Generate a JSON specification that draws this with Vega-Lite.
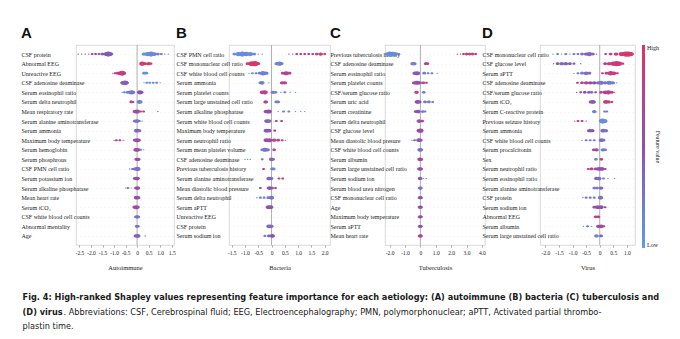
{
"$schema": "https://vega.github.io/schema/vega-lite/v6.json",
"padding": {"left": 20, "top": 25, "right": 2, "bottom": 2},
"background": "white",
"datasets": {
"names": [
{"id":"A1","p":"A","r":1,"f":"CSF protein"},{"id":"A2","p":"A","r":2,"f":"Abnormal EEG"},{"id":"A3","p":"A","r":3,"f":"Unreactive EEG"},{"id":"A4","p":"A","r":4,"f":"CSF adenosine deaminase"},{"id":"A5","p":"A","r":5,"f":"Serum eosinophil ratio"},{"id":"A6","p":"A","r":6,"f":"Serum delta neutrophil"},{"id":"A7","p":"A","r":7,"f":"Mean respiratory rate"},{"id":"A8","p":"A","r":8,"f":"Serum alanine aminotransferase"},{"id":"A9","p":"A","r":9,"f":"Serum ammonia"},{"id":"A10","p":"A","r":10,"f":"Maximum body temperature"},{"id":"A11","p":"A","r":11,"f":"Serum hemoglobin"},{"id":"A12","p":"A","r":12,"f":"Serum phosphrous"},{"id":"A13","p":"A","r":13,"f":"CSF PMN cell ratio"},{"id":"A14","p":"A","r":14,"f":"Serum potassium ion"},{"id":"A15","p":"A","r":15,"f":"Serum alkaline phosphatase"},{"id":"A16","p":"A","r":16,"f":"Mean heart rate"},{"id":"A17","p":"A","r":17,"f":"Serum tCO₂"},{"id":"A18","p":"A","r":18,"f":"CSF white blood cell counts"},{"id":"A19","p":"A","r":19,"f":"Abnormal mentality"},{"id":"A20","p":"A","r":20,"f":"Age"},
{"id":"B1","p":"B","r":1,"f":"CSF PMN cell ratio"},{"id":"B2","p":"B","r":2,"f":"CSF mononuclear cell ratio"},{"id":"B3","p":"B","r":3,"f":"CSF white blood cell counts"},{"id":"B4","p":"B","r":4,"f":"Serum ammonia"},{"id":"B5","p":"B","r":5,"f":"Serum platelet counts"},{"id":"B6","p":"B","r":6,"f":"Serum large unstained cell ratio"},{"id":"B7","p":"B","r":7,"f":"Serum alkaline phosphatase"},{"id":"B8","p":"B","r":8,"f":"Serum white blood cell counts"},{"id":"B9","p":"B","r":9,"f":"Maximum body temperature"},{"id":"B10","p":"B","r":10,"f":"Serum neutrophil ratio"},{"id":"B11","p":"B","r":11,"f":"Serum mean platelet volume"},{"id":"B12","p":"B","r":12,"f":"CSF adenosine deaminase"},{"id":"B13","p":"B","r":13,"f":"Previous tuberculosis history"},{"id":"B14","p":"B","r":14,"f":"Serum alanine aminotransferase"},{"id":"B15","p":"B","r":15,"f":"Mean diastolic blood pressure"},{"id":"B16","p":"B","r":16,"f":"Serum delta neutrophil"},{"id":"B17","p":"B","r":17,"f":"Serum aPTT"},{"id":"B18","p":"B","r":18,"f":"Unreactive EEG"},{"id":"B19","p":"B","r":19,"f":"CSF protein"},{"id":"B20","p":"B","r":20,"f":"Serum sodium ion"},
{"id":"C1","p":"C","r":1,"f":"Previous tuberculosis history"},{"id":"C2","p":"C","r":2,"f":"CSF adenosine deaminase"},{"id":"C3","p":"C","r":3,"f":"Serum eosinophil ratio"},{"id":"C4","p":"C","r":4,"f":"Serum platelet counts"},{"id":"C5","p":"C","r":5,"f":"CSF/serum glucose ratio"},{"id":"C6","p":"C","r":6,"f":"Serum uric acid"},{"id":"C7","p":"C","r":7,"f":"Serum creatinine"},{"id":"C8","p":"C","r":8,"f":"Serum delta neutrophil"},{"id":"C9","p":"C","r":9,"f":"CSF glucose level"},{"id":"C10","p":"C","r":10,"f":"Mean diastolic blood presure"},{"id":"C11","p":"C","r":11,"f":"CSF white blood cell counts"},{"id":"C12","p":"C","r":12,"f":"Serum albumin"},{"id":"C13","p":"C","r":13,"f":"Serum large unstained cell ratio"},{"id":"C14","p":"C","r":14,"f":"Serum sodium ion"},{"id":"C15","p":"C","r":15,"f":"Serum blood urea nitrogen"},{"id":"C16","p":"C","r":16,"f":"CSF mononuclear cell ratio"},{"id":"C17","p":"C","r":17,"f":"Age"},{"id":"C18","p":"C","r":18,"f":"Maximum body temperature"},{"id":"C19","p":"C","r":19,"f":"Serum aPTT"},{"id":"C20","p":"C","r":20,"f":"Mean heart rate"},
{"id":"D1","p":"D","r":1,"f":"CSF mononuclear cell ratio"},{"id":"D2","p":"D","r":2,"f":"CSF glucose level"},{"id":"D3","p":"D","r":3,"f":"Serum aPTT"},{"id":"D4","p":"D","r":4,"f":"CSF adenosine deaminase"},{"id":"D5","p":"D","r":5,"f":"CSF/serum glucose ratio"},{"id":"D6","p":"D","r":6,"f":"Serum tCO₂"},{"id":"D7","p":"D","r":7,"f":"Serum C-reactive protein"},{"id":"D8","p":"D","r":8,"f":"Previous seizure history"},{"id":"D9","p":"D","r":9,"f":"Serum ammonia"},{"id":"D10","p":"D","r":10,"f":"CSF white blood cell counts"},{"id":"D11","p":"D","r":11,"f":"Serum procalcitonin"},{"id":"D12","p":"D","r":12,"f":"Sex"},{"id":"D13","p":"D","r":13,"f":"Serum neutrophil ratio"},{"id":"D14","p":"D","r":14,"f":"Serum eosinophil ratio"},{"id":"D15","p":"D","r":15,"f":"Serum alanine aminotransferase"},{"id":"D16","p":"D","r":16,"f":"CSF protein"},{"id":"D17","p":"D","r":17,"f":"Serum sodium ion"},{"id":"D18","p":"D","r":18,"f":"Abnormal EEG"},{"id":"D19","p":"D","r":19,"f":"Serum albumin"},{"id":"D20","p":"D","r":20,"f":"Serum large unstained cell ratio"}
],
"pts": [
{"id":"A1","s":-2.55,"v":0.75,"n":1},{"id":"A1","s":-2.4,"v":0.8,"n":1},{"id":"A1","s":-2.25,"v":0.7,"n":1},{"id":"A1","s":-2.1,"v":0.75,"n":1},{"id":"A1","s":-1.95,"v":0.7,"n":2},{"id":"A1","s":-1.8,"v":0.65,"n":2},{"id":"A1","s":-1.65,"v":0.6,"n":2},{"id":"A1","s":-1.5,"v":0.55,"n":3},{"id":"A1","s":-1.35,"v":0.5,"n":5},{"id":"A1","s":-1.25,"v":0.45,"n":9},{"id":"A1","s":-1.15,"v":0.45,"n":5},{"id":"A1","s":0.3,"v":0.1,"n":4},{"id":"A1","s":0.45,"v":0.1,"n":6},{"id":"A1","s":0.6,"v":0.12,"n":9},{"id":"A1","s":0.75,"v":0.15,"n":5},{"id":"A1","s":0.9,"v":0.15,"n":3},{"id":"A1","s":1.05,"v":0.2,"n":2},{"id":"A1","s":1.2,"v":0.15,"n":1},{"id":"A1","s":1.35,"v":0.2,"n":1},
{"id":"A2","s":-1.9,"v":null,"n":1},{"id":"A2","s":-1.75,"v":null,"n":2},{"id":"A2","s":-1.6,"v":null,"n":3},{"id":"A2","s":-1.45,"v":null,"n":3},{"id":"A2","s":-1.3,"v":null,"n":2},{"id":"A2","s":-1.15,"v":null,"n":2},{"id":"A2","s":-1.0,"v":null,"n":1},{"id":"A2","s":-0.72,"v":null,"n":6},{"id":"A2","s":-0.63,"v":null,"n":9},{"id":"A2","s":-0.56,"v":null,"n":4},{"id":"A2","s":0.22,"v":1,"n":6},{"id":"A2","s":0.35,"v":0.95,"n":3},{"id":"A2","s":0.5,"v":0.95,"n":4},{"id":"A2","s":0.6,"v":0.9,"n":2},
{"id":"A3","s":-1.05,"v":0.8,"n":1},{"id":"A3","s":-0.95,"v":0.8,"n":2},{"id":"A3","s":-0.85,"v":0.8,"n":3},{"id":"A3","s":-0.75,"v":0.85,"n":5},{"id":"A3","s":-0.65,"v":0.85,"n":8},{"id":"A3","s":-0.58,"v":0.8,"n":4},{"id":"A3","s":0.3,"v":0.1,"n":3},{"id":"A3","s":0.4,"v":0.1,"n":3},
{"id":"A4","s":-0.62,"v":0.45,"n":5},{"id":"A4","s":-0.52,"v":0.4,"n":8},{"id":"A4","s":-0.44,"v":0.45,"n":3},{"id":"A4","s":0.3,"v":0.1,"n":1},{"id":"A4","s":0.42,"v":0.1,"n":2},{"id":"A4","s":0.55,"v":0.1,"n":2},{"id":"A4","s":0.7,"v":0.1,"n":2},{"id":"A4","s":0.85,"v":0.15,"n":2},{"id":"A4","s":1.0,"v":0.1,"n":1},
{"id":"A5","s":-0.65,"v":0.1,"n":1},{"id":"A5","s":-0.55,"v":0.1,"n":2},{"id":"A5","s":-0.42,"v":0.15,"n":3},{"id":"A5","s":-0.3,"v":0.2,"n":5},{"id":"A5","s":-0.22,"v":0.25,"n":7},{"id":"A5","s":0.12,"v":0.5,"n":6},{"id":"A5","s":0.2,"v":0.55,"n":3},
{"id":"A6","s":-0.25,"v":0.8,"n":3},{"id":"A6","s":-0.18,"v":0.75,"n":2},{"id":"A6","s":0.08,"v":0.2,"n":4},{"id":"A6","s":0.12,"v":0.15,"n":5},
{"id":"A7","s":-0.08,"v":0.6,"n":5},{"id":"A7","s":0.0,"v":0.6,"n":6},{"id":"A7","s":0.15,"v":0.85,"n":2},{"id":"A7","s":0.28,"v":0.9,"n":2},{"id":"A7","s":0.9,"v":0.9,"n":1},
{"id":"A8","s":-0.08,"v":0.3,"n":4},{"id":"A8","s":0.0,"v":0.25,"n":5},{"id":"A8","s":0.1,"v":0.2,"n":2},{"id":"A8","s":0.22,"v":0.15,"n":1},
{"id":"A9","s":-0.02,"v":0.4,"n":5},{"id":"A9","s":0.08,"v":0.35,"n":4},
{"id":"A10","s":-1.0,"v":0.8,"n":1},{"id":"A10","s":-0.9,"v":0.8,"n":2},{"id":"A10","s":-0.75,"v":0.75,"n":2},{"id":"A10","s":-0.6,"v":0.8,"n":1},{"id":"A10","s":-0.1,"v":0.55,"n":3},{"id":"A10","s":0.0,"v":0.6,"n":6},{"id":"A10","s":0.08,"v":0.6,"n":3},
{"id":"A11","s":-0.05,"v":0.7,"n":5},{"id":"A11","s":0.03,"v":0.6,"n":5},{"id":"A11","s":0.15,"v":0.2,"n":2},{"id":"A11","s":0.28,"v":0.15,"n":1},
{"id":"A12","s":-0.02,"v":0.6,"n":4},{"id":"A12","s":0.05,"v":0.7,"n":4},
{"id":"A13","s":-0.32,"v":0.2,"n":1},{"id":"A13","s":-0.2,"v":0.25,"n":2},{"id":"A13","s":-0.08,"v":0.3,"n":4},{"id":"A13","s":0.02,"v":0.3,"n":6},
{"id":"A14","s":-0.1,"v":0.6,"n":3},{"id":"A14","s":-0.02,"v":0.6,"n":5},{"id":"A14","s":0.04,"v":0.55,"n":3},
{"id":"A15","s":-0.5,"v":0.15,"n":1},{"id":"A15","s":-0.4,"v":0.15,"n":2},{"id":"A15","s":-0.25,"v":0.2,"n":1},{"id":"A15","s":-0.05,"v":0.55,"n":3},{"id":"A15","s":0.02,"v":0.55,"n":5},
{"id":"A16","s":-0.03,"v":0.55,"n":5},{"id":"A16","s":0.04,"v":0.5,"n":4},
{"id":"A17","s":-0.12,"v":0.7,"n":3},{"id":"A17","s":-0.04,"v":0.7,"n":6},{"id":"A17","s":0.03,"v":0.6,"n":3},
{"id":"A18","s":-0.03,"v":0.3,"n":4},{"id":"A18","s":0.03,"v":0.3,"n":4},
{"id":"A19","s":-0.02,"v":0.3,"n":3},{"id":"A19","s":0.03,"v":0.3,"n":3},
{"id":"A20","s":-0.05,"v":0.45,"n":4},{"id":"A20","s":0.03,"v":0.4,"n":5},{"id":"A20","s":0.35,"v":0.2,"n":1},
{"id":"B1","s":-1.4,"v":0.1,"n":3},{"id":"B1","s":-1.25,"v":0.1,"n":6},{"id":"B1","s":-1.1,"v":0.1,"n":9},{"id":"B1","s":-0.95,"v":0.12,"n":7},{"id":"B1","s":-0.8,"v":0.1,"n":6},{"id":"B1","s":-0.65,"v":0.15,"n":3},{"id":"B1","s":-0.5,"v":0.15,"n":1},{"id":"B1","s":-0.35,"v":0.2,"n":1},{"id":"B1","s":0.65,"v":0.8,"n":1},{"id":"B1","s":0.8,"v":0.85,"n":1},{"id":"B1","s":0.95,"v":0.85,"n":2},{"id":"B1","s":1.1,"v":0.8,"n":2},{"id":"B1","s":1.25,"v":0.8,"n":2},{"id":"B1","s":1.4,"v":0.75,"n":2},{"id":"B1","s":1.55,"v":0.8,"n":2},{"id":"B1","s":1.7,"v":0.8,"n":3},{"id":"B1","s":1.85,"v":0.85,"n":4},{"id":"B1","s":2.0,"v":0.9,"n":2},
{"id":"B2","s":-0.9,"v":0.95,"n":3},{"id":"B2","s":-0.75,"v":0.95,"n":8},{"id":"B2","s":-0.62,"v":0.95,"n":9},{"id":"B2","s":-0.5,"v":0.9,"n":3},{"id":"B2","s":0.2,"v":0.15,"n":4},{"id":"B2","s":0.3,"v":0.15,"n":6},{"id":"B2","s":0.38,"v":0.2,"n":3},
{"id":"B3","s":-0.85,"v":0.1,"n":1},{"id":"B3","s":-0.72,"v":0.1,"n":2},{"id":"B3","s":-0.58,"v":0.15,"n":2},{"id":"B3","s":-0.45,"v":0.2,"n":3},{"id":"B3","s":-0.32,"v":0.2,"n":7},{"id":"B3","s":-0.2,"v":0.25,"n":4},{"id":"B3","s":0.42,"v":0.7,"n":3},{"id":"B3","s":0.55,"v":0.7,"n":6},{"id":"B3","s":0.68,"v":0.75,"n":3},
{"id":"B4","s":-0.42,"v":0.2,"n":3},{"id":"B4","s":-0.36,"v":0.2,"n":5},{"id":"B4","s":-0.1,"v":0.2,"n":1},{"id":"B4","s":0.4,"v":0.8,"n":4},{"id":"B4","s":0.5,"v":0.8,"n":4},
{"id":"B5","s":-0.35,"v":0.8,"n":5},{"id":"B5","s":-0.25,"v":0.75,"n":6},{"id":"B5","s":0.05,"v":0.2,"n":4},{"id":"B5","s":0.15,"v":0.2,"n":3},{"id":"B5","s":0.35,"v":0.15,"n":1},{"id":"B5","s":0.5,"v":0.15,"n":2},{"id":"B5","s":0.7,"v":0.1,"n":1},{"id":"B5","s":0.9,"v":0.1,"n":1},
{"id":"B6","s":-0.22,"v":0.75,"n":4},{"id":"B6","s":0.18,"v":0.2,"n":3},{"id":"B6","s":0.25,"v":0.2,"n":3},
{"id":"B7","s":-0.2,"v":0.55,"n":5},{"id":"B7","s":-0.1,"v":0.55,"n":6},{"id":"B7","s":0.25,"v":0.2,"n":1},{"id":"B7","s":0.45,"v":0.15,"n":2},{"id":"B7","s":0.65,"v":0.15,"n":2},{"id":"B7","s":0.9,"v":0.1,"n":1},{"id":"B7","s":1.1,"v":0.15,"n":1},{"id":"B7","s":1.25,"v":0.1,"n":1},
{"id":"B8","s":-0.18,"v":0.4,"n":5},{"id":"B8","s":-0.1,"v":0.35,"n":5},{"id":"B8","s":0.18,"v":0.8,"n":2},{"id":"B8","s":0.38,"v":0.8,"n":2},
{"id":"B9","s":-0.2,"v":0.45,"n":5},{"id":"B9","s":-0.1,"v":0.45,"n":5},{"id":"B9","s":0.12,"v":0.8,"n":2},
{"id":"B10","s":-0.2,"v":0.6,"n":5},{"id":"B10","s":-0.08,"v":0.6,"n":6},{"id":"B10","s":0.1,"v":0.75,"n":4},{"id":"B10","s":0.25,"v":0.8,"n":3},{"id":"B10","s":0.4,"v":0.8,"n":2},{"id":"B10","s":0.52,"v":0.85,"n":1},
{"id":"B11","s":-0.35,"v":0.2,"n":3},{"id":"B11","s":-0.25,"v":0.25,"n":6},{"id":"B11","s":-0.15,"v":0.3,"n":4},{"id":"B11","s":0.1,"v":0.8,"n":3},
{"id":"B12","s":-1.0,"v":0.15,"n":1},{"id":"B12","s":-0.9,"v":0.15,"n":1},{"id":"B12","s":-0.8,"v":0.15,"n":1},{"id":"B12","s":-0.35,"v":0.2,"n":2},{"id":"B12","s":0.0,"v":0.4,"n":5},{"id":"B12","s":0.06,"v":0.35,"n":3},
{"id":"B13","s":-0.3,"v":0.9,"n":2},{"id":"B13","s":0.02,"v":0.15,"n":3},{"id":"B13","s":0.08,"v":0.15,"n":3},
{"id":"B14","s":-0.1,"v":0.4,"n":5},{"id":"B14","s":-0.02,"v":0.35,"n":4},{"id":"B14","s":0.28,"v":0.8,"n":2},{"id":"B14","s":0.42,"v":0.8,"n":2},
{"id":"B15","s":-0.42,"v":0.5,"n":2},{"id":"B15","s":-0.08,"v":0.5,"n":5},{"id":"B15","s":0.02,"v":0.5,"n":3},{"id":"B15","s":0.15,"v":0.8,"n":2},
{"id":"B16","s":-0.55,"v":0.15,"n":1},{"id":"B16","s":-0.42,"v":0.15,"n":2},{"id":"B16","s":-0.28,"v":0.2,"n":2},{"id":"B16","s":-0.12,"v":0.2,"n":3},{"id":"B16","s":0.0,"v":0.3,"n":5},
{"id":"B17","s":-0.12,"v":0.55,"n":5},{"id":"B17","s":-0.03,"v":0.55,"n":5},
{"id":"B18","s":-0.08,"v":null,"n":4},{"id":"B18","s":0.0,"v":null,"n":6},
{"id":"B19","s":-0.1,"v":0.4,"n":5},{"id":"B19","s":-0.02,"v":0.35,"n":5},
{"id":"B20","s":-0.25,"v":0.2,"n":2},{"id":"B20","s":-0.1,"v":0.3,"n":3},{"id":"B20","s":0.03,"v":0.55,"n":5},
{"id":"C1","s":-2.2,"v":0.1,"n":3},{"id":"C1","s":-2.0,"v":0.1,"n":9},{"id":"C1","s":-1.8,"v":0.12,"n":8},{"id":"C1","s":-1.6,"v":0.12,"n":5},{"id":"C1","s":-1.4,"v":0.15,"n":2},{"id":"C1","s":2.4,"v":0.85,"n":1},{"id":"C1","s":2.6,"v":0.85,"n":1},{"id":"C1","s":2.8,"v":0.85,"n":2},{"id":"C1","s":3.0,"v":0.9,"n":3},{"id":"C1","s":3.2,"v":0.85,"n":3},{"id":"C1","s":3.4,"v":0.9,"n":3},{"id":"C1","s":3.6,"v":0.85,"n":2},
{"id":"C2","s":-0.5,"v":0.2,"n":4},{"id":"C2","s":-0.4,"v":0.2,"n":4},{"id":"C2","s":0.35,"v":0.85,"n":3},{"id":"C2","s":0.45,"v":0.8,"n":3},
{"id":"C3","s":-0.35,"v":0.45,"n":5},{"id":"C3","s":-0.2,"v":0.45,"n":6},{"id":"C3","s":0.25,"v":0.2,"n":3},{"id":"C3","s":0.5,"v":0.15,"n":2},{"id":"C3","s":0.75,"v":0.15,"n":2},{"id":"C3","s":1.1,"v":0.15,"n":1},
{"id":"C4","s":-0.4,"v":0.55,"n":4},{"id":"C4","s":-0.22,"v":0.55,"n":6},{"id":"C4","s":-0.05,"v":0.55,"n":4},{"id":"C4","s":0.2,"v":0.8,"n":3},{"id":"C4","s":0.4,"v":0.85,"n":2},
{"id":"C5","s":-0.25,"v":0.85,"n":4},{"id":"C5","s":0.22,"v":0.2,"n":3},
{"id":"C6","s":-0.2,"v":0.5,"n":5},{"id":"C6","s":-0.08,"v":0.5,"n":4},{"id":"C6","s":0.3,"v":0.2,"n":3},{"id":"C6","s":0.55,"v":0.2,"n":3},{"id":"C6","s":0.8,"v":0.2,"n":2},
{"id":"C7","s":-0.3,"v":0.55,"n":3},{"id":"C7","s":-0.15,"v":0.5,"n":5},{"id":"C7","s":0.15,"v":0.2,"n":3},{"id":"C7","s":0.3,"v":0.2,"n":2},
{"id":"C8","s":-0.08,"v":0.45,"n":5},{"id":"C8","s":0.12,"v":0.8,"n":3},
{"id":"C9","s":-0.08,"v":0.65,"n":5},{"id":"C9","s":0.02,"v":0.6,"n":6},
{"id":"C10","s":-0.55,"v":0.2,"n":1},{"id":"C10","s":-0.38,"v":0.25,"n":2},{"id":"C10","s":-0.1,"v":0.45,"n":5},{"id":"C10","s":0.0,"v":0.45,"n":4},
{"id":"C11","s":-0.03,"v":0.3,"n":5},{"id":"C11","s":0.03,"v":0.3,"n":4},
{"id":"C12","s":-0.03,"v":0.7,"n":5},{"id":"C12","s":0.03,"v":0.7,"n":4},
{"id":"C13","s":-0.06,"v":0.6,"n":4},{"id":"C13","s":0.02,"v":0.55,"n":4},
{"id":"C14","s":-0.02,"v":0.5,"n":4},{"id":"C14","s":0.2,"v":0.2,"n":1},{"id":"C14","s":0.38,"v":0.2,"n":1},
{"id":"C15","s":-0.02,"v":0.3,"n":4},{"id":"C15","s":0.03,"v":0.3,"n":3},
{"id":"C16","s":-0.02,"v":0.55,"n":4},{"id":"C16","s":0.03,"v":0.5,"n":3},
{"id":"C17","s":-0.02,"v":0.5,"n":4},{"id":"C17","s":0.03,"v":0.5,"n":3},
{"id":"C18","s":-0.02,"v":0.6,"n":4},{"id":"C18","s":0.03,"v":0.55,"n":3},
{"id":"C19","s":-0.02,"v":0.55,"n":4},{"id":"C19","s":0.03,"v":0.5,"n":3},
{"id":"C20","s":-0.02,"v":0.75,"n":4},{"id":"C20","s":0.03,"v":0.7,"n":3},
{"id":"D1","s":-1.72,"v":0.15,"n":1},{"id":"D1","s":-1.55,"v":0.15,"n":2},{"id":"D1","s":-1.4,"v":0.15,"n":1},{"id":"D1","s":-1.25,"v":0.2,"n":2},{"id":"D1","s":-1.1,"v":0.15,"n":1},{"id":"D1","s":-0.95,"v":0.2,"n":2},{"id":"D1","s":-0.8,"v":0.25,"n":2},{"id":"D1","s":-0.65,"v":0.35,"n":3},{"id":"D1","s":-0.5,"v":0.4,"n":4},{"id":"D1","s":-0.38,"v":0.35,"n":6},{"id":"D1","s":-0.25,"v":0.4,"n":3},{"id":"D1","s":-0.12,"v":0.5,"n":1},{"id":"D1","s":0.22,"v":0.8,"n":2},{"id":"D1","s":0.4,"v":0.85,"n":3},{"id":"D1","s":0.6,"v":0.85,"n":4},{"id":"D1","s":0.8,"v":0.9,"n":6},{"id":"D1","s":0.95,"v":0.95,"n":9},{"id":"D1","s":1.05,"v":0.95,"n":10},{"id":"D1","s":1.15,"v":0.95,"n":6},
{"id":"D2","s":-1.7,"v":0.35,"n":1},{"id":"D2","s":-1.55,"v":0.4,"n":3},{"id":"D2","s":-1.4,"v":0.35,"n":4},{"id":"D2","s":-1.25,"v":0.4,"n":4},{"id":"D2","s":-1.1,"v":0.45,"n":3},{"id":"D2","s":-0.95,"v":0.4,"n":2},{"id":"D2","s":-0.7,"v":0.3,"n":1},{"id":"D2","s":0.2,"v":0.8,"n":3},{"id":"D2","s":0.35,"v":0.85,"n":4},{"id":"D2","s":0.5,"v":0.85,"n":6},{"id":"D2","s":0.62,"v":0.85,"n":9},{"id":"D2","s":0.72,"v":0.9,"n":6},{"id":"D2","s":0.85,"v":0.85,"n":2},
{"id":"D3","s":-0.95,"v":0.25,"n":1},{"id":"D3","s":-0.8,"v":0.2,"n":2},{"id":"D3","s":-0.65,"v":0.25,"n":3},{"id":"D3","s":-0.5,"v":0.3,"n":5},{"id":"D3","s":-0.38,"v":0.35,"n":3},{"id":"D3","s":0.1,"v":0.75,"n":2},{"id":"D3","s":0.25,"v":0.8,"n":3},{"id":"D3","s":0.4,"v":0.8,"n":7},{"id":"D3","s":0.52,"v":0.85,"n":5},{"id":"D3","s":0.65,"v":0.85,"n":2},
{"id":"D4","s":-0.82,"v":0.8,"n":2},{"id":"D4","s":-0.65,"v":0.75,"n":3},{"id":"D4","s":-0.5,"v":0.7,"n":4},{"id":"D4","s":-0.35,"v":0.6,"n":4},{"id":"D4","s":-0.2,"v":0.5,"n":4},{"id":"D4","s":-0.05,"v":0.35,"n":4},{"id":"D4","s":0.05,"v":0.25,"n":6},{"id":"D4","s":0.2,"v":0.3,"n":4},{"id":"D4","s":0.35,"v":0.2,"n":6},{"id":"D4","s":0.48,"v":0.2,"n":4},{"id":"D4","s":0.62,"v":0.2,"n":1},
{"id":"D5","s":-0.85,"v":0.5,"n":1},{"id":"D5","s":-0.7,"v":0.45,"n":2},{"id":"D5","s":-0.55,"v":0.5,"n":3},{"id":"D5","s":-0.4,"v":0.4,"n":3},{"id":"D5","s":-0.3,"v":0.3,"n":3},{"id":"D5","s":-0.15,"v":0.5,"n":2},{"id":"D5","s":0.05,"v":0.75,"n":3},{"id":"D5","s":0.2,"v":0.8,"n":5},{"id":"D5","s":0.32,"v":0.85,"n":6},{"id":"D5","s":0.45,"v":0.85,"n":3},{"id":"D5","s":0.55,"v":0.85,"n":1},
{"id":"D6","s":-0.32,"v":0.45,"n":4},{"id":"D6","s":-0.24,"v":0.45,"n":5},{"id":"D6","s":0.22,"v":0.85,"n":5},{"id":"D6","s":0.32,"v":0.85,"n":4},{"id":"D6","s":0.45,"v":0.85,"n":2},
{"id":"D7","s":-0.2,"v":0.2,"n":4},{"id":"D7","s":0.18,"v":0.2,"n":2},{"id":"D7","s":0.26,"v":0.2,"n":2},
{"id":"D8","s":-0.92,"v":0.8,"n":1},{"id":"D8","s":-0.8,"v":0.8,"n":2},{"id":"D8","s":-0.65,"v":0.8,"n":2},{"id":"D8","s":-0.5,"v":0.8,"n":1},{"id":"D8","s":0.1,"v":0.1,"n":9},{"id":"D8","s":0.18,"v":0.1,"n":6},
{"id":"D9","s":-0.38,"v":0.5,"n":4},{"id":"D9","s":-0.28,"v":0.5,"n":4},{"id":"D9","s":0.12,"v":0.3,"n":5},{"id":"D9","s":0.22,"v":0.3,"n":4},
{"id":"D10","s":-0.65,"v":0.2,"n":1},{"id":"D10","s":-0.5,"v":0.25,"n":2},{"id":"D10","s":-0.35,"v":0.2,"n":2},{"id":"D10","s":-0.2,"v":0.25,"n":2},{"id":"D10","s":0.06,"v":0.3,"n":5},{"id":"D10","s":0.14,"v":0.3,"n":3},
{"id":"D11","s":-0.22,"v":0.75,"n":3},{"id":"D11","s":-0.12,"v":0.6,"n":4},{"id":"D11","s":0.12,"v":0.25,"n":4},{"id":"D11","s":0.2,"v":0.2,"n":3},
{"id":"D12","s":-0.14,"v":0.15,"n":3},{"id":"D12","s":0.06,"v":0.95,"n":3},
{"id":"D13","s":-0.42,"v":0.75,"n":2},{"id":"D13","s":-0.3,"v":0.8,"n":3},{"id":"D13","s":-0.15,"v":0.65,"n":3},{"id":"D13","s":-0.03,"v":0.5,"n":5},{"id":"D13","s":0.08,"v":0.5,"n":5},{"id":"D13","s":0.2,"v":0.45,"n":2},
{"id":"D14","s":-0.12,"v":0.4,"n":4},{"id":"D14","s":-0.03,"v":0.35,"n":5},{"id":"D14","s":0.14,"v":0.2,"n":2},{"id":"D14","s":0.3,"v":0.15,"n":1},{"id":"D14","s":0.55,"v":0.15,"n":1},
{"id":"D15","s":-0.2,"v":0.2,"n":3},{"id":"D15","s":-0.1,"v":0.25,"n":3},{"id":"D15","s":0.05,"v":0.4,"n":4},
{"id":"D16","s":-0.62,"v":0.2,"n":1},{"id":"D16","s":-0.5,"v":0.2,"n":2},{"id":"D16","s":-0.35,"v":0.25,"n":2},{"id":"D16","s":-0.2,"v":0.2,"n":2},{"id":"D16","s":0.03,"v":0.3,"n":5},
{"id":"D17","s":-0.2,"v":0.6,"n":3},{"id":"D17","s":-0.08,"v":0.55,"n":5},{"id":"D17","s":0.05,"v":0.55,"n":5},{"id":"D17","s":0.2,"v":0.6,"n":2},
{"id":"D18","s":-0.15,"v":0.8,"n":3},{"id":"D18","s":-0.05,"v":0.75,"n":3},{"id":"D18","s":0.1,"v":null,"n":3},
{"id":"D19","s":-0.6,"v":0.2,"n":1},{"id":"D19","s":-0.45,"v":0.2,"n":2},{"id":"D19","s":-0.3,"v":0.2,"n":1},{"id":"D19","s":-0.05,"v":0.6,"n":4},{"id":"D19","s":0.05,"v":0.65,"n":5},{"id":"D19","s":0.15,"v":0.6,"n":2},
{"id":"D20","s":-0.12,"v":0.2,"n":4},{"id":"D20","s":0.05,"v":0.4,"n":3}
]
},
"data": {"name": "pts"},
"transform": [{"lookup": "id", "from": {"data": {"name": "names"}, "key": "id", "fields": ["p", "r", "f"]}}],
"bounds": "flush",
"spacing": 55,
"hconcat": [
{"width": 98, "height": 200, "title": "A",
 "transform": [{"filter": "datum.p === 'A'"}],
 "layer": [
  {"data": {"values": [{}]}, "mark": {"type": "rule", "color": "#9a9a9a", "strokeWidth": 0.8}, "encoding": {"x": {"datum": 0, "type": "quantitative", "title": "Autoimmune", "axis": {"values": [-2.5, -2, -1.5, -1, -0.5, 0, 0.5, 1, 1.5], "labelOverlap": false, "labelExpr": "datum.value === 0 ? '0' : replace(format(datum.value, '.1f'), '−', '-')"}}}},
  {"mark": {"type": "point", "filled": true, "opacity": 1, "strokeWidth": 0, "shape": "M-1,0A1,0.7,0,1,1,1,0A1,0.7,0,1,1,-1,0Z"},
   "encoding": {
    "x": {"field": "s", "type": "quantitative", "title": "Autoimmune", "scale": {"domain": [-2.65, 1.6], "nice": false, "zero": false}, "axis": {"values": [-2.5, -2, -1.5, -1, -0.5, 0, 0.5, 1, 1.5], "labelOverlap": false, "labelExpr": "datum.value === 0 ? '0' : replace(format(datum.value, '.1f'), '−', '-')"}},
    "y": {"field": "f", "type": "nominal", "title": null, "sort": {"field": "r", "op": "min"}, "scale": {"type": "point", "padding": 0.95}, "axis": {"labelPadding": 55}},
    "color": {"condition": {"test": "datum.v === null", "value": "#6f7a88"}, "field": "v", "type": "quantitative", "scale": {"domain": [0, 1], "range": ["#5b9ee6", "#8e4fb5", "#de3466"], "interpolate": "rgb"}, "legend": {"title": "Feature value", "values": [0, 1], "labelExpr": "datum.value >= 1 ? 'High' : 'Low'", "direction": "vertical", "encode": {"title": {"update": {"angle": {"value": 270}}}}}},
    "size": {"field": "n", "type": "quantitative", "scale": {"domain": [1, 10], "range": [2.5, 60]}, "legend": null}
   }}
 ]},
{"width": 101, "height": 200, "title": "B",
 "transform": [{"filter": "datum.p === 'B'"}],
 "layer": [
  {"data": {"values": [{}]}, "mark": {"type": "rule", "color": "#9a9a9a", "strokeWidth": 0.8}, "encoding": {"x": {"datum": 0, "type": "quantitative", "title": "Bacteria", "axis": {"values": [-1.5, -1, -0.5, 0, 0.5, 1, 1.5, 2], "labelOverlap": false, "labelExpr": "datum.value === 0 ? '0' : replace(format(datum.value, '.1f'), '−', '-')"}}}},
  {"mark": {"type": "point", "filled": true, "opacity": 1, "strokeWidth": 0, "shape": "M-1,0A1,0.7,0,1,1,1,0A1,0.7,0,1,1,-1,0Z"},
   "encoding": {
    "x": {"field": "s", "type": "quantitative", "title": "Bacteria", "scale": {"domain": [-1.6, 2.2], "nice": false, "zero": false}, "axis": {"values": [-1.5, -1, -0.5, 0, 0.5, 1, 1.5, 2], "labelOverlap": false, "labelExpr": "datum.value === 0 ? '0' : replace(format(datum.value, '.1f'), '−', '-')"}},
    "y": {"field": "f", "type": "nominal", "title": null, "sort": {"field": "r", "op": "min"}, "scale": {"type": "point", "padding": 0.95}, "axis": {"labelPadding": 53}},
    "color": {"condition": {"test": "datum.v === null", "value": "#6f7a88"}, "field": "v", "type": "quantitative", "scale": {"domain": [0, 1], "range": ["#5b9ee6", "#8e4fb5", "#de3466"], "interpolate": "rgb"}, "legend": {"title": "Feature value", "values": [0, 1], "labelExpr": "datum.value >= 1 ? 'High' : 'Low'", "direction": "vertical", "encode": {"title": {"update": {"angle": {"value": 270}}}}}},
    "size": {"field": "n", "type": "quantitative", "scale": {"domain": [1, 10], "range": [2.5, 60]}, "legend": null}
   }}
 ]},
{"width": 100, "height": 200, "title": "C",
 "transform": [{"filter": "datum.p === 'C'"}],
 "layer": [
  {"data": {"values": [{}]}, "mark": {"type": "rule", "color": "#9a9a9a", "strokeWidth": 0.8}, "encoding": {"x": {"datum": 0, "type": "quantitative", "title": "Tuberculosis", "axis": {"values": [-2, -1, 0, 1, 2, 3, 4], "labelOverlap": false, "labelExpr": "datum.value === 0 ? '0' : replace(format(datum.value, '.1f'), '−', '-')"}}}},
  {"mark": {"type": "point", "filled": true, "opacity": 1, "strokeWidth": 0, "shape": "M-1,0A1,0.7,0,1,1,1,0A1,0.7,0,1,1,-1,0Z"},
   "encoding": {
    "x": {"field": "s", "type": "quantitative", "title": "Tuberculosis", "scale": {"domain": [-2.3, 4.2], "nice": false, "zero": false}, "axis": {"values": [-2, -1, 0, 1, 2, 3, 4], "labelOverlap": false, "labelExpr": "datum.value === 0 ? '0' : replace(format(datum.value, '.1f'), '−', '-')"}},
    "y": {"field": "f", "type": "nominal", "title": null, "sort": {"field": "r", "op": "min"}, "scale": {"type": "point", "padding": 0.95}, "axis": {"labelPadding": 55}},
    "color": {"condition": {"test": "datum.v === null", "value": "#6f7a88"}, "field": "v", "type": "quantitative", "scale": {"domain": [0, 1], "range": ["#5b9ee6", "#8e4fb5", "#de3466"], "interpolate": "rgb"}, "legend": {"title": "Feature value", "values": [0, 1], "labelExpr": "datum.value >= 1 ? 'High' : 'Low'", "direction": "vertical", "encode": {"title": {"update": {"angle": {"value": 270}}}}}},
    "size": {"field": "n", "type": "quantitative", "scale": {"domain": [1, 10], "range": [2.5, 60]}, "legend": null}
   }}
 ]},
{"width": 95, "height": 200, "title": "D",
 "transform": [{"filter": "datum.p === 'D'"}],
 "layer": [
  {"data": {"values": [{}]}, "mark": {"type": "rule", "color": "#9a9a9a", "strokeWidth": 0.8}, "encoding": {"x": {"datum": 0, "type": "quantitative", "title": "Virus", "axis": {"values": [-2, -1.5, -1, -0.5, 0, 0.5, 1], "labelOverlap": false, "labelExpr": "datum.value === 0 ? '0' : replace(format(datum.value, '.1f'), '−', '-')"}}}},
  {"mark": {"type": "point", "filled": true, "opacity": 1, "strokeWidth": 0, "shape": "M-1,0A1,0.7,0,1,1,1,0A1,0.7,0,1,1,-1,0Z"},
   "encoding": {
    "x": {"field": "s", "type": "quantitative", "title": "Virus", "scale": {"domain": [-2.2, 1.3], "nice": false, "zero": false}, "axis": {"values": [-2, -1.5, -1, -0.5, 0, 0.5, 1], "labelOverlap": false, "labelExpr": "datum.value === 0 ? '0' : replace(format(datum.value, '.1f'), '−', '-')"}},
    "y": {"field": "f", "type": "nominal", "title": null, "sort": {"field": "r", "op": "min"}, "scale": {"type": "point", "padding": 0.95}, "axis": {"labelPadding": 58}},
    "color": {"condition": {"test": "datum.v === null", "value": "#6f7a88"}, "field": "v", "type": "quantitative", "scale": {"domain": [0, 1], "range": ["#5b9ee6", "#8e4fb5", "#de3466"], "interpolate": "rgb"}, "legend": {"title": "Feature value", "values": [0, 1], "labelExpr": "datum.value >= 1 ? 'High' : 'Low'", "direction": "vertical", "encode": {"title": {"update": {"angle": {"value": 270}}}}}},
    "size": {"field": "n", "type": "quantitative", "scale": {"domain": [1, 10], "range": [2.5, 60]}, "legend": null}
   }}
 ]}
],
"resolve": {"scale": {"color": "shared", "size": "shared"}},
"title": {
 "text": ["Fig. 4: High-ranked Shapley values representing feature importance for each aetiology: (A) autoimmune (B) bacteria (C) tuberculosis and", "(D) virus"],
 "subtitle": ["\u200b\u2003\u2003\u2003\u2003\u2002\u2009\u2009\u200a. Abbreviations: CSF, Cerebrospinal fluid; EEG, Electroencephalography; PMN, polymorphonuclear; aPTT, Activated partial thrombo-", "plastin time."],
 "orient": "bottom", "anchor": "start", "frame": "bounds", "dx": 2,
 "font": "DejaVu Sans Condensed", "fontSize": 9.1, "fontWeight": "bold", "lineHeight": 14.5, "color": "#1a1a1a",
 "subtitleFont": "DejaVu Sans Condensed", "subtitleFontSize": 9.1, "subtitleFontWeight": "normal", "subtitleLineHeight": 14.5, "subtitleColor": "#1a1a1a", "subtitlePadding": -9.5,
 "offset": 22, "limit": 700
},
"config": {
 "font": "Liberation Serif",
 "view": {"stroke": "#cfcfcf", "strokeWidth": 0.8},
 "axis": {"labelFont": "Liberation Serif", "titleFont": "Liberation Serif", "labelColor": "#222", "titleColor": "#222", "titleFontWeight": "normal"},
 "axisX": {"labelFontSize": 5.5, "titleFontSize": 6.5, "tickSize": 2, "tickColor": "#555", "tickWidth": 0.5, "domain": false, "grid": false, "labelPadding": 3, "titlePadding": 9, "labelOverlap": false, "labelFlush": false},
 "axisY": {"labelFontSize": 6, "labelAlign": "left", "ticks": false, "domain": false, "grid": true, "gridColor": "#e6e6e6", "gridDash": [1, 3], "gridWidth": 0.6},
 "title": {"font": "Liberation Sans", "fontSize": 15, "fontWeight": "bold", "anchor": "start", "frame": "bounds", "color": "#111", "offset": 4},
 "legend": {"gradientLength": 203, "gradientThickness": 3, "labelFont": "Liberation Serif", "labelFontSize": 6, "labelColor": "#222", "titleFont": "Liberation Serif", "titleFontSize": 6, "titleFontWeight": "normal", "titleColor": "#222", "titleOrient": "right", "offset": 6, "padding": 0, "labelOffset": 2, "titlePadding": -4}
}
}
